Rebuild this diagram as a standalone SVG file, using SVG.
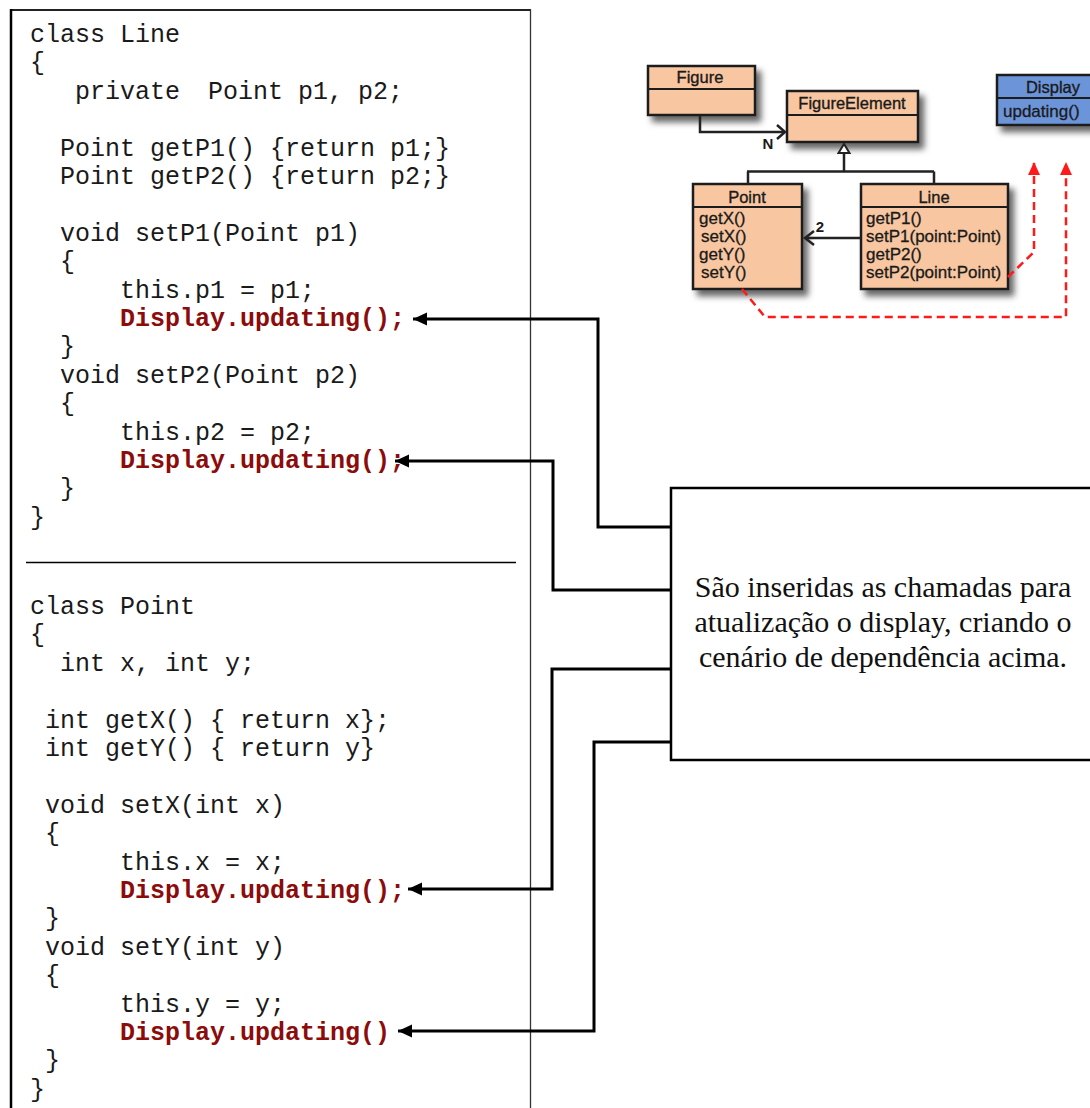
<svg xmlns="http://www.w3.org/2000/svg" width="1090" height="1108" viewBox="0 0 1090 1108">
  <defs>
    <style>
      .code { font-family: "Liberation Mono", "Courier New", monospace; font-size: 25px; fill: #1a1a1a; white-space: pre; }
      .call { font-family: "Liberation Mono", "Courier New", monospace; font-size: 25px; font-weight: bold; fill: #8c0c0c; white-space: pre; }
      .note { font-family: "Liberation Serif", "Times New Roman", serif; font-size: 30px; fill: #111; text-anchor: middle; }
      .uml-title { font-family: "Liberation Sans", Arial, sans-serif; font-size: 16.5px; fill: #1a1a1a; stroke: #1a1a1a; stroke-width: 0.35; text-anchor: middle; }
      .uml-op { font-family: "Liberation Sans", Arial, sans-serif; font-size: 17px; fill: #1a1a1a; stroke: #1a1a1a; stroke-width: 0.3; }
      .uml-mult { font-family: "Liberation Sans", Arial, sans-serif; font-size: 15px; font-weight: bold; fill: #1a1a1a; text-anchor: middle; }
      .cls { fill: #f8c6a0; stroke: #1c1c1c; stroke-width: 2.5; }
      .cls-blue { fill: #6c94d9; stroke: #1c1c1c; stroke-width: 2.5; }
      .div { stroke: #1c1c1c; stroke-width: 2; }
      .uml-line { fill: none; stroke: #222; stroke-width: 2.5; }
      .dep { fill: none; stroke: #ff1a1a; stroke-width: 2.5; stroke-dasharray: 8 5; }
      .conn { fill: none; stroke: #000; stroke-width: 3; }
    </style>
    <filter id="shadow" x="-10%" y="-10%" width="130%" height="140%">
      <feDropShadow dx="5" dy="6" stdDeviation="3" flood-color="#000" flood-opacity="0.6"/>
    </filter>
    <marker id="arrow" markerUnits="userSpaceOnUse" markerWidth="16" markerHeight="14" refX="14" refY="6.5" orient="auto">
      <path d="M0,0 L14,6.5 L0,13 Z" fill="#000"/>
    </marker>
    <marker id="redArrow" markerUnits="userSpaceOnUse" markerWidth="14" markerHeight="14" refX="13" refY="6" orient="auto">
      <path d="M0,0 L13,6 L0,12 Z" fill="#ff1a1a"/>
    </marker>
  </defs>

  <rect width="1090" height="1108" fill="#fff"/>

  <!-- code listing frame -->
  <g id="code-frame">
    <line x1="10" y1="10" x2="531" y2="10" stroke="#222" stroke-width="2"/>
    <line x1="11" y1="9" x2="11" y2="1108" stroke="#000" stroke-width="2.5"/>
    <line x1="530.5" y1="9" x2="530.5" y2="1108" stroke="#333" stroke-width="1.3"/>
    <line x1="26" y1="562.5" x2="516" y2="562.5" stroke="#000" stroke-width="1.5"/>
  </g>

  <!-- class Line -->
  <g id="code-line">
    <text class="code" x="30" y="42">class Line</text>
    <text class="code" x="30" y="70.4">{</text>
    <text class="code" y="98.8"><tspan x="75">private</tspan><tspan x="208">Point p1, p2;</tspan></text>
    <text class="code" x="60" y="155.6">Point getP1() {return p1;}</text>
    <text class="code" x="60" y="184">Point getP2() {return p2;}</text>
    <text class="code" x="60" y="240.8">void setP1(Point p1)</text>
    <text class="code" x="60" y="269.2">{</text>
    <text class="code" x="120" y="297.6">this.p1 = p1;</text>
    <text class="call" x="120" y="326">Display.updating();</text>
    <text class="code" x="60" y="354.4">}</text>
    <text class="code" x="60" y="382.8">void setP2(Point p2)</text>
    <text class="code" x="60" y="411.2">{</text>
    <text class="code" x="120" y="439.6">this.p2 = p2;</text>
    <text class="call" x="120" y="468">Display.updating();</text>
    <text class="code" x="60" y="496.4">}</text>
    <text class="code" x="30" y="524.8">}</text>
  </g>

  <!-- class Point -->
  <g id="code-point">
    <text class="code" x="30" y="614">class Point</text>
    <text class="code" x="30" y="642.4">{</text>
    <text class="code" x="60" y="670.8">int x, int y;</text>
    <text class="code" x="45" y="727.6">int getX() { return x};</text>
    <text class="code" x="45" y="756">int getY() { return y}</text>
    <text class="code" x="45" y="812.8">void setX(int x)</text>
    <text class="code" x="45" y="841.2">{</text>
    <text class="code" x="120" y="869.6">this.x = x;</text>
    <text class="call" x="120" y="898">Display.updating();</text>
    <text class="code" x="45" y="926.4">}</text>
    <text class="code" x="45" y="954.8">void setY(int y)</text>
    <text class="code" x="45" y="983.2">{</text>
    <text class="code" x="120" y="1011.6">this.y = y;</text>
    <text class="call" x="120" y="1040">Display.updating()</text>
    <text class="code" x="45" y="1068.4">}</text>
    <text class="code" x="30" y="1096.8">}</text>
  </g>

  <!-- explanation note -->
  <g id="note">
    <rect x="671" y="488" width="430" height="272" fill="#fff" stroke="#000" stroke-width="2.5"/>
    <text class="note" x="883" y="597">São inseridas as chamadas para</text>
    <text class="note" x="883" y="632">atualização o display, criando o</text>
    <text class="note" x="883" y="667">cenário de dependência acima.</text>
  </g>

  <!-- UML class diagram -->
  <g id="uml-figure">
    <g filter="url(#shadow)">
      <rect class="cls" x="648" y="66" width="107" height="49"/>
    </g>
    <line class="div" x1="648" y1="89" x2="755" y2="89"/>
    <text class="uml-title" x="700" y="83">Figure</text>
  </g>

  <g id="uml-figureelement">
    <g filter="url(#shadow)">
      <rect class="cls" x="787" y="91" width="131" height="51"/>
    </g>
    <line class="div" x1="787" y1="115" x2="918" y2="115"/>
    <text class="uml-title" x="852" y="109">FigureElement</text>
  </g>

  <g id="uml-display">
    <g filter="url(#shadow)">
      <rect class="cls-blue" x="997" y="75" width="110" height="50"/>
    </g>
    <line class="div" x1="997" y1="98" x2="1095" y2="98"/>
    <text class="uml-title" x="1053" y="93">Display</text>
    <text class="uml-op" x="1003" y="117">updating()</text>
  </g>

  <g id="uml-point">
    <g filter="url(#shadow)">
      <rect class="cls" x="693" y="184" width="109" height="105"/>
    </g>
    <line class="div" x1="693" y1="207" x2="802" y2="207"/>
    <text class="uml-title" x="747" y="203">Point</text>
    <text class="uml-op" x="699" y="224">getX()</text>
    <text class="uml-op" x="701" y="242">setX()</text>
    <text class="uml-op" x="699" y="260">getY()</text>
    <text class="uml-op" x="701" y="278">setY()</text>
  </g>

  <g id="uml-line">
    <g filter="url(#shadow)">
      <rect class="cls" x="861" y="184" width="147" height="105"/>
    </g>
    <line class="div" x1="861" y1="207" x2="1008" y2="207"/>
    <text class="uml-title" x="934" y="203">Line</text>
    <text class="uml-op" x="866" y="224">getP1()</text>
    <text class="uml-op" x="866" y="242">setP1(point:Point)</text>
    <text class="uml-op" x="866" y="260">getP2()</text>
    <text class="uml-op" x="866" y="278">setP2(point:Point)</text>
  </g>

  <!-- UML relations -->
  <g id="uml-relations">
    <!-- Figure to FigureElement, multiplicity N -->
    <path class="uml-line" d="M700,115 V132 H785"/>
    <path class="uml-line" d="M777,125 L785,132 L777,139"/>
    <text class="uml-mult" x="768" y="149">N</text>
    <!-- generalization -->
    <path d="M844,144 L838.5,153 L849.5,153 Z" fill="#fff" stroke="#222" stroke-width="2"/>
    <path class="uml-line" d="M844,153 V171.5 M747,171.5 H934 M748,171.5 V184 M934,171.5 V184"/>
    <!-- Line to Point, multiplicity 2 -->
    <path class="uml-line" d="M861,238 H806"/>
    <path class="uml-line" d="M814,231 L805,238 L814,245"/>
    <text class="uml-mult" x="820" y="232">2</text>
    <!-- dependencies on Display -->
    <path class="dep" d="M1008,277 L1034,252 V162" marker-end="url(#redArrow)"/>
    <path class="dep" d="M742,289 L765,317 H1066 V162" marker-end="url(#redArrow)"/>
  </g>

  <!-- connectors from the note to the inserted calls -->
  <g id="connectors">
    <path class="conn" d="M671,527 H598 V319 H413" marker-end="url(#arrow)"/>
    <path class="conn" d="M671,590 H553 V461 H395" marker-end="url(#arrow)"/>
    <path class="conn" d="M671,669 H552 V889 H408" marker-end="url(#arrow)"/>
    <path class="conn" d="M671,742 H594 V1031 H398" marker-end="url(#arrow)"/>
  </g>
</svg>
